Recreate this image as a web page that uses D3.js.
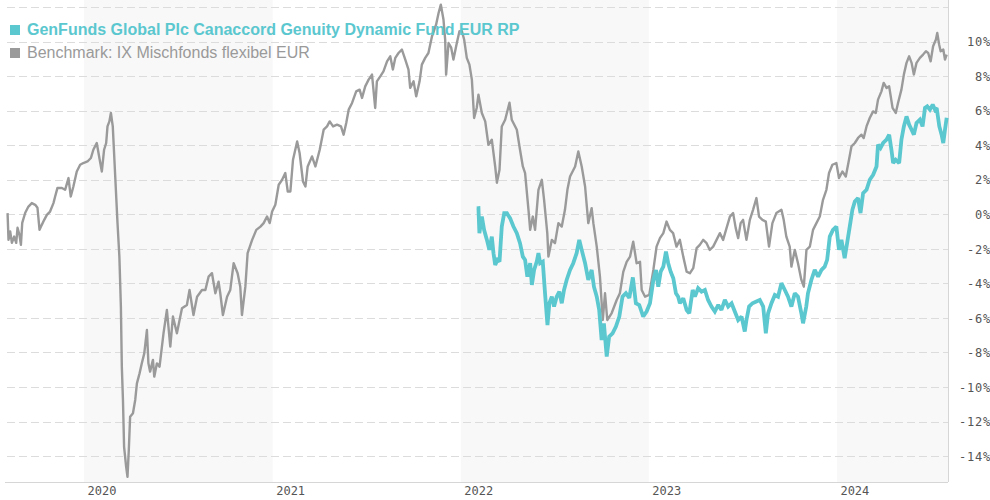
<!DOCTYPE html>
<html><head><meta charset="utf-8">
<script src="https://cdn.jsdelivr.net/npm/d3@7"></script>
<style>
html,body{margin:0;padding:0;background:#fff;}
svg{display:block;}
</style></head>
<body>
<svg id="chart" width="990" height="500"></svg>
<script>
// ---------- data (decimal years, performance in %) ----------
const benchT = [2019.593,2019.598,2019.607,2019.616,2019.628,2019.639,2019.646,2019.656,2019.664,2019.671,2019.687,2019.704,2019.722,2019.740,2019.752,2019.763,2019.775,2019.788,2019.802,2019.819,2019.837,2019.846,2019.858,2019.882,2019.899,2019.917,2019.929,2019.943,2019.961,2019.979,2019.996,2020.018,2020.036,2020.049,2020.067,2020.081,2020.094,2020.106,2020.117,2020.124,2020.134,2020.142,2020.152,2020.165,2020.177,2020.187,2020.195,2020.200,2020.206,2020.212,2020.223,2020.230,2020.237,2020.244,2020.259,2020.271,2020.280,2020.294,2020.306,2020.319,2020.333,2020.341,2020.350,2020.365,2020.372,2020.386,2020.400,2020.421,2020.439,2020.457,2020.471,2020.492,2020.519,2020.545,2020.559,2020.580,2020.599,2020.625,2020.643,2020.660,2020.678,2020.696,2020.713,2020.722,2020.736,2020.758,2020.775,2020.793,2020.814,2020.828,2020.837,2020.855,2020.867,2020.891,2020.913,2020.935,2020.952,2020.970,2020.984,2020.997,2021.014,2021.032,2021.050,2021.067,2021.080,2021.094,2021.108,2021.130,2021.143,2021.161,2021.174,2021.186,2021.209,2021.227,2021.250,2021.271,2021.289,2021.303,2021.321,2021.342,2021.363,2021.377,2021.391,2021.404,2021.422,2021.444,2021.462,2021.475,2021.492,2021.510,2021.528,2021.545,2021.554,2021.572,2021.589,2021.608,2021.625,2021.639,2021.652,2021.669,2021.687,2021.705,2021.722,2021.731,2021.749,2021.763,2021.781,2021.793,2021.811,2021.828,2021.847,2021.869,2021.882,2021.894,2021.908,2021.917,2021.922,2021.935,2021.949,2021.961,2021.979,2021.993,2022.006,2022.018,2022.032,2022.046,2022.059,2022.071,2022.085,2022.094,2022.112,2022.130,2022.147,2022.165,2022.183,2022.192,2022.206,2022.218,2022.236,2022.259,2022.271,2022.298,2022.315,2022.330,2022.342,2022.360,2022.369,2022.383,2022.395,2022.413,2022.431,2022.443,2022.460,2022.466,2022.484,2022.501,2022.519,2022.537,2022.554,2022.567,2022.581,2022.608,2022.625,2022.643,2022.661,2022.678,2022.696,2022.705,2022.723,2022.740,2022.755,2022.767,2022.779,2022.802,2022.829,2022.846,2022.864,2022.882,2022.900,2022.917,2022.935,2022.953,2022.962,2022.980,2023.002,2023.024,2023.041,2023.059,2023.077,2023.094,2023.112,2023.129,2023.147,2023.165,2023.183,2023.201,2023.218,2023.236,2023.254,2023.271,2023.289,2023.307,2023.324,2023.342,2023.360,2023.378,2023.395,2023.413,2023.431,2023.448,2023.462,2023.475,2023.488,2023.501,2023.519,2023.537,2023.554,2023.572,2023.586,2023.604,2023.622,2023.639,2023.657,2023.678,2023.705,2023.717,2023.731,2023.749,2023.758,2023.776,2023.793,2023.811,2023.824,2023.838,2023.856,2023.873,2023.891,2023.909,2023.926,2023.944,2023.958,2023.976,2023.997,2024.011,2024.029,2024.047,2024.064,2024.077,2024.095,2024.112,2024.130,2024.142,2024.157,2024.174,2024.192,2024.206,2024.218,2024.236,2024.248,2024.263,2024.277,2024.295,2024.312,2024.324,2024.342,2024.355,2024.369,2024.383,2024.396,2024.408,2024.422,2024.440,2024.457,2024.472,2024.484,2024.497,2024.510,2024.525,2024.532,2024.542,2024.550,2024.564,2024.573,2024.582];
const benchV = [0.07,-1.48,-0.99,-1.65,-1.29,-1.65,-0.78,-1.19,-1.77,-0.49,0.09,0.45,0.65,0.55,0.38,-0.90,-0.61,-0.32,-0.03,0.16,0.65,1.03,1.52,1.52,1.42,2.10,1.03,1.61,2.48,2.87,2.97,3.06,3.26,3.74,4.13,3.26,2.48,3.74,4.13,5.09,5.38,5.87,5.09,2.19,-0.49,-2.45,-5.34,-8.82,-10.75,-13.46,-14.62,-15.20,-13.65,-11.72,-11.52,-10.75,-9.79,-9.21,-8.63,-8.05,-6.70,-8.63,-9.11,-8.43,-9.40,-8.63,-8.82,-6.89,-5.54,-7.66,-5.92,-6.89,-5.44,-5.25,-4.38,-5.83,-4.77,-4.38,-4.38,-3.61,-3.41,-4.57,-3.90,-4.57,-5.83,-4.77,-4.38,-2.83,-3.41,-4.19,-5.83,-4.19,-2.25,-1.48,-0.90,-0.71,-0.51,-0.13,-0.51,0.16,0.55,1.71,2.00,2.39,1.32,1.32,3.16,4.22,3.55,1.90,1.61,2.77,3.35,2.77,3.74,4.90,5.09,5.38,5.09,5.19,5.09,4.61,5.29,6.06,6.45,7.12,7.22,6.74,7.41,7.80,8.09,6.16,7.70,7.99,8.28,8.86,9.15,8.38,9.06,9.34,9.54,8.96,8.38,7.32,7.70,6.83,7.70,8.67,9.06,9.34,10.31,10.99,11.66,12.14,11.28,10.12,8.09,9.92,9.65,8.96,9.92,10.60,10.60,10.12,9.06,8.67,7.80,5.58,6.17,6.93,5.87,5.38,4.03,4.32,2.77,1.83,2.58,5.09,5.48,6.46,5.48,4.90,3.74,2.77,2.39,0.26,-0.90,-0.13,-0.90,1.42,2.00,0.84,-1.09,-2.45,-1.48,-1.67,-0.51,-0.71,0.26,1.42,2.19,2.77,3.64,2.77,1.61,-0.51,0.36,-0.51,-1.87,-3.61,-6.12,-4.57,-6.12,-5.73,-4.96,-4.57,-3.33,-2.75,-2.45,-1.58,-2.83,-2.75,-4.38,-4.77,-4.67,-3.22,-1.87,-1.38,-1.09,-0.42,-0.90,-1.09,-1.87,-1.48,-2.45,-3.32,-3.41,-3.12,-1.96,-1.77,-1.48,-1.67,-2.06,-1.87,-1.48,-1.09,-1.48,-0.80,-0.13,0.07,-0.80,-1.38,-0.51,-0.32,-1.48,-0.32,0.26,0.94,-0.13,-0.32,-0.42,-1.87,-0.51,0.07,0.26,-0.32,-1.29,-1.87,-3.03,-2.06,-2.83,-3.80,-4.19,-2.06,-1.87,-0.90,-0.51,-0.13,0.84,1.42,2.39,2.87,2.97,2.10,2.48,2.19,3.16,3.93,4.13,4.42,4.61,4.42,5.09,5.58,5.96,5.87,6.64,7.12,7.61,7.32,7.41,6.16,5.87,6.45,7.22,8.09,8.77,9.15,8.77,8.09,8.77,9.06,9.25,9.44,9.34,8.86,9.73,10.12,10.50,9.83,9.44,9.54,8.96,9.25];

const fundT = [2022.085,2022.094,2022.099,2022.112,2022.124,2022.139,2022.152,2022.165,2022.174,2022.183,2022.195,2022.206,2022.218,2022.231,2022.245,2022.262,2022.280,2022.298,2022.315,2022.330,2022.342,2022.354,2022.369,2022.378,2022.390,2022.404,2022.413,2022.422,2022.436,2022.448,2022.461,2022.471,2022.484,2022.496,2022.510,2022.524,2022.537,2022.549,2022.563,2022.581,2022.598,2022.616,2022.630,2022.643,2022.661,2022.678,2022.696,2022.708,2022.723,2022.736,2022.749,2022.761,2022.776,2022.789,2022.807,2022.825,2022.843,2022.860,2022.878,2022.896,2022.915,2022.931,2022.949,2022.970,2022.988,2023.006,2023.024,2023.038,2023.050,2023.063,2023.077,2023.091,2023.103,2023.116,2023.130,2023.144,2023.156,2023.165,2023.183,2023.201,2023.215,2023.233,2023.245,2023.262,2023.280,2023.298,2023.315,2023.333,2023.351,2023.369,2023.386,2023.404,2023.422,2023.440,2023.457,2023.475,2023.493,2023.510,2023.519,2023.533,2023.551,2023.569,2023.590,2023.608,2023.622,2023.634,2023.652,2023.670,2023.687,2023.705,2023.723,2023.740,2023.758,2023.776,2023.793,2023.811,2023.820,2023.837,2023.846,2023.864,2023.882,2023.900,2023.918,2023.935,2023.948,2023.962,2023.979,2023.997,2024.011,2024.024,2024.041,2024.054,2024.068,2024.082,2024.095,2024.112,2024.125,2024.139,2024.157,2024.174,2024.192,2024.210,2024.218,2024.231,2024.245,2024.263,2024.277,2024.289,2024.298,2024.312,2024.330,2024.342,2024.355,2024.369,2024.383,2024.396,2024.408,2024.422,2024.440,2024.454,2024.467,2024.479,2024.493,2024.508,2024.520,2024.529,2024.543,2024.555,2024.564,2024.573,2024.582];
const fundV = [0.35,0.36,-1.09,-0.13,-0.90,-1.48,-2.06,-1.29,-2.25,-2.93,-2.64,-2.74,-0.71,0.07,0.07,-0.22,-0.71,-1.09,-1.67,-2.45,-2.64,-3.61,-2.83,-4.09,-3.22,-2.74,-2.25,-2.83,-2.74,-4.57,-6.41,-5.15,-4.77,-5.34,-4.77,-4.48,-5.15,-4.38,-3.80,-3.22,-2.83,-2.25,-1.48,-2.06,-2.83,-3.80,-3.22,-4.19,-4.77,-5.54,-7.28,-6.31,-8.24,-7.08,-6.89,-6.50,-5.92,-4.77,-4.57,-4.84,-3.65,-5.15,-5.25,-5.92,-5.63,-5.15,-3.80,-3.22,-4.19,-3.32,-3.03,-2.16,-2.83,-3.32,-3.70,-4.57,-4.77,-5.15,-4.86,-5.54,-5.73,-4.38,-4.77,-4.28,-4.48,-4.38,-4.96,-5.34,-5.63,-5.25,-5.54,-4.96,-5.34,-5.15,-5.63,-6.12,-5.92,-6.79,-6.12,-5.34,-5.15,-5.06,-4.96,-5.34,-6.89,-5.73,-5.15,-4.67,-4.77,-3.99,-4.38,-4.77,-5.34,-4.57,-4.77,-5.73,-6.31,-5.34,-4.57,-3.80,-3.22,-3.61,-3.22,-3.03,-2.64,-1.29,-0.90,-0.71,-2.06,-1.48,-2.54,-1.67,-0.71,0.26,0.74,0.94,0.07,1.23,1.42,2.00,2.29,2.77,4.03,3.84,4.13,4.32,4.61,3.74,2.97,3.16,2.97,4.32,5.09,5.67,5.19,4.90,4.61,5.29,5.48,5.09,6.16,6.25,6.06,6.35,6.06,6.16,5.09,4.61,4.13,4.90,5.59];

const yearTicks = [2020, 2021, 2022, 2023, 2024];
const shadedYears = [2020, 2022, 2024];
const yTickValues = [10, 8, 6, 4, 2, 0, -2, -4, -6, -8, -10, -12, -14];
const gridValues = [12, 10, 8, 6, 4, 2, 0, -2, -4, -6, -8, -10, -12, -14];
const seriesNames = ["GenFunds Global Plc Canaccord Genuity Dynamic Fund EUR RP", "Benchmark: IX Mischfonds flexibel EUR"];
const seriesColors = ["#5bc7cf", "#9a9a9a"];
const domainStart = 2019.59, domainEnd = 2024.589;

// ---------- helpers ----------
function decToDate(d) {
  const y = Math.floor(d);
  const s = Date.UTC(y, 0, 1), e = Date.UTC(y + 1, 0, 1);
  return new Date(s + (d - y) * (e - s));
}
const bench = benchT.map((t, i) => ({ date: decToDate(t), v: benchV[i] })).filter(d => d.v !== undefined);
const fund = fundT.map((t, i) => ({ date: decToDate(t), v: fundV[i] })).filter(d => d.v !== undefined);

// ---------- layout ----------
const L = 7, R = 948, T = 0, B = 482;
const svg = d3.select("#chart");
const x = d3.scaleUtc().domain([decToDate(domainStart), decToDate(domainEnd)]).range([L, R]);
const y = d3.scaleLinear().domain([-15.5, 12.41]).range([B, T]);

// shaded year bands
svg.append("g").selectAll("rect").data(shadedYears).join("rect")
  .attr("x", d => x(decToDate(d)))
  .attr("y", T)
  .attr("width", d => Math.min(R, x(decToDate(d + 1))) - x(decToDate(d)))
  .attr("height", B - T)
  .attr("fill", "#f8f8f8");

// grid lines
svg.append("g").selectAll("line").data(gridValues).join("line")
  .attr("x1", L).attr("x2", R)
  .attr("y1", d => Math.round(y(d)) + 0.5).attr("y2", d => Math.round(y(d)) + 0.5)
  .attr("stroke", "#dcdcdc").attr("stroke-width", 1)
  .attr("stroke-dasharray", "8,4");

// frame lines
svg.append("line").attr("x1", 5).attr("x2", R).attr("y1", B + 0.5).attr("y2", B + 0.5)
  .attr("stroke", "#d6d6d6");
svg.append("line").attr("x1", R + 0.5).attr("x2", R + 0.5).attr("y1", T).attr("y2", B)
  .attr("stroke", "#d6d6d6");

// lines
const line = d3.line().x(d => x(d.date)).y(d => y(d.v)).curve(d3.curveLinear);
svg.append("path").datum(bench).attr("d", line)
  .attr("fill", "none").attr("stroke", seriesColors[1]).attr("stroke-width", 2.4)
  .attr("stroke-linejoin", "round");
svg.append("path").datum(fund).attr("d", line)
  .attr("fill", "none").attr("stroke", seriesColors[0]).attr("stroke-width", 3.8)
  .attr("stroke-linejoin", "miter").attr("stroke-miterlimit", 2);

// right axis
const yAxis = d3.axisRight(y).tickValues(yTickValues).tickSize(0).tickFormat(d => d + "%");
const gy = svg.append("g").attr("transform", `translate(${991},0)`).call(yAxis);
gy.select(".domain").remove();
gy.selectAll("text")
  .attr("x", 0).attr("text-anchor", "end").attr("dy", "0.35em")
  .style("font-family", "'DejaVu Sans Mono', monospace").style("font-size", "12px")
  .style("letter-spacing", "0.8px").attr("fill", "#555");

// bottom axis
const xAxis = d3.axisBottom(x).tickValues(yearTicks.map(decToDate)).tickSize(0)
  .tickFormat(d3.utcFormat("%Y"));
const gx = svg.append("g").attr("transform", `translate(0,${B})`).call(xAxis);
gx.select(".domain").remove();
gx.selectAll("text")
  .attr("x", 3).attr("y", 13).attr("dy", 0).attr("text-anchor", "start")
  .style("font-family", "'DejaVu Sans Mono', monospace").style("font-size", "12px")
  .attr("fill", "#555");

// legend
const leg = svg.append("g");
const legRows = [{ y: 35, sq: 25, weight: "bold" }, { y: 58, sq: 48, weight: "normal" }];
seriesNames.forEach((name, i) => {
  leg.append("rect").attr("x", 10).attr("y", legRows[i].sq).attr("width", 10).attr("height", 10)
    .attr("fill", seriesColors[i]);
  leg.append("text").attr("x", 27).attr("y", legRows[i].y).text(name)
    .style("font-family", "'Liberation Sans', Arial, sans-serif").style("font-size", "16px")
    .style("font-weight", legRows[i].weight).attr("fill", seriesColors[i]);
});
</script>
</body></html>
